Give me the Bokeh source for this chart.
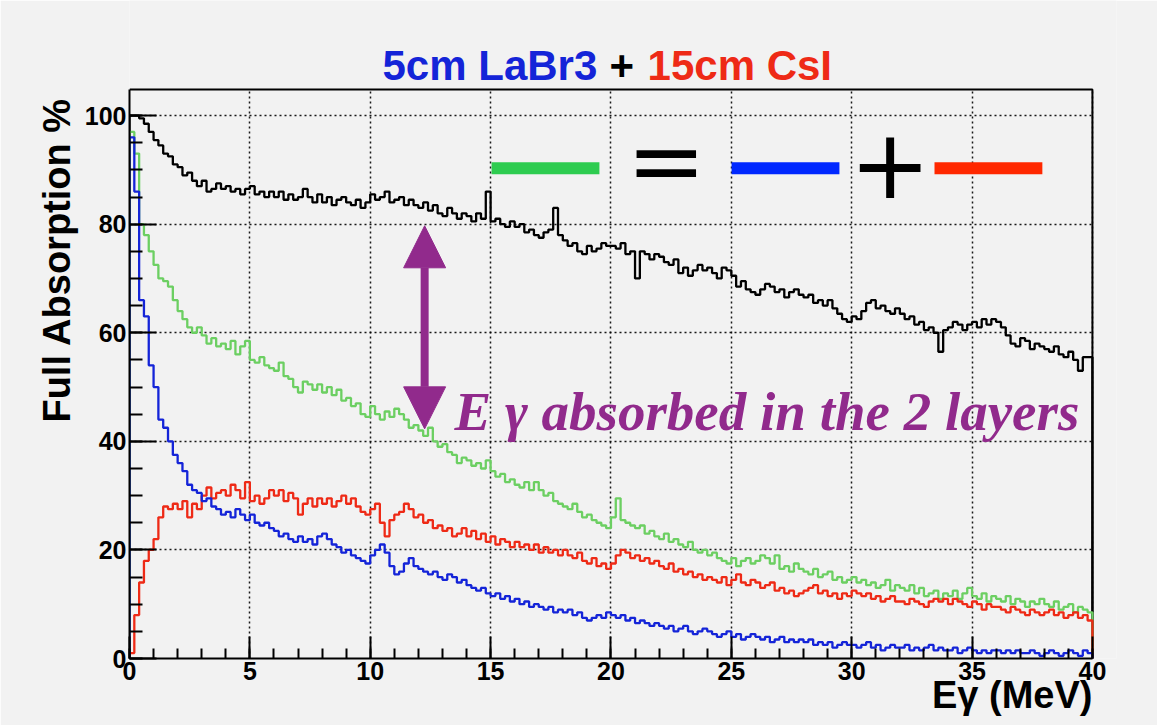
import numpy as np
from bokeh.plotting import figure
from bokeh.models import Range1d, FixedTicker, Label, Arrow, NormalHead, Title
from bokeh.embed import file_html
from bokeh.resources import INLINE

# ---------------- data ----------------
bin_width = 0.2          # MeV
e_max = 40.0
y_max = 104.8

# Full absorption, total (black)
black = [
    100, 100, 99.5, 98.5, 97, 95.5, 94.5, 93, 92.5, 91,
    90.5, 89, 89.5, 88, 87, 88, 86, 86.5, 87.5, 86.5,
    87, 86, 86.5, 85.5, 86.5, 87, 85.5, 86, 85, 86,
    85, 86, 84.5, 85.5, 84.5, 85, 86.5, 85, 84, 85.5,
    84, 85, 83.5, 84.5, 85, 84, 83.5, 84.5, 83, 84,
    85.5, 84.5, 85, 86, 84, 84.5, 85, 83.5, 84.5, 83.5,
    83, 84, 82.5, 83.5, 82, 81.5, 83, 82, 81, 82,
    81.5, 80.5, 82, 81, 86, 80.5, 81, 80, 79.5, 80.5,
    79.5, 80, 78.5, 79, 78, 77.5, 78.5, 79, 83, 78,
    77, 76, 76.5, 75, 74.5, 76, 75, 75.5, 76.5, 76,
    76, 75.5, 76.5, 74.5, 75, 70, 75, 74.5, 73.5, 74.5,
    74, 73, 72.5, 73.5, 71, 72, 70.5, 71.5, 72.5, 71.5,
    72, 71, 70, 72, 71.5, 70.5, 68.5, 69.5, 68, 67.5,
    67, 68, 69, 68.5, 67.5, 68, 66.5, 67.5, 68, 67,
    66.5, 67, 65.5, 66, 65, 66, 64.5, 63.5, 62.5, 62,
    63, 62.5, 64, 65.5, 66, 64.5, 65, 64, 63.5, 64.5,
    63.5, 62.5, 63, 61.5, 62, 60.5, 61, 60, 56.5, 60.5,
    61, 62, 61.5, 60.5, 61.5, 62, 61, 62.5, 61.5, 62.5,
    62, 61, 59.5, 58, 57.5, 59, 58.5, 57, 58, 57.5,
    57, 56.5, 57.5, 56, 55.5, 56.5, 55, 53, 55.5, 55.5,
]

# LaBr3 + CsI (green)
green = [
    97, 93, 80, 78, 75, 72.5, 70, 69.5, 68.5, 66,
    64, 62.5, 61, 60, 61, 59.5, 58, 59, 57.5, 58,
    57, 58.5, 56, 57.5, 58.5, 55, 54.5, 55.5, 54, 53.5,
    53, 54.5, 52, 51.5, 50, 49, 51, 50.5, 49.5, 50.5,
    49, 50, 48.5, 49.5, 47.5, 48, 46.5, 47, 45, 44.5,
    46.5, 45, 44, 45.5, 44.5, 46, 45, 44, 42.5, 43,
    42, 41, 42.5, 40, 39, 39.5, 38, 37.5, 36, 37,
    36.5, 35.5, 36, 35, 36.5, 34.5, 33.5, 34, 32.5, 33,
    32, 31.5, 32.5, 31, 32.5, 31, 30, 30.5, 29, 28.5,
    28, 27.5, 28.5, 27, 26, 26.5, 25.5, 25, 24.5, 24,
    26, 29.5, 25.5, 25, 24.5, 24, 24.5, 23, 23.5, 22.5,
    22, 23, 21.5, 22, 21, 20.5, 21.5, 20, 19.5, 20,
    19, 19.5, 18.5, 18, 17.5, 18.5, 17, 18, 18.5, 17.5,
    18, 19, 18.5, 17.5, 19, 16.5, 17, 16, 17.5, 16.5,
    16, 15.5, 16.5, 15, 15.5, 16, 14.5, 15, 14, 14.5,
    15, 14, 14.5, 13.5, 14, 13, 13.5, 14.5, 12.5, 13.5,
    13, 12.5, 13.5, 12, 13, 11.5, 12, 12.5, 11, 12,
    11.5, 12.5, 11, 12, 13, 11.5, 11, 12, 10.5, 11.5,
    11, 10.5, 11.5, 10, 11, 10.5, 9.5, 10.5, 10, 11,
    10, 9.5, 10.5, 9, 9.5, 10, 8.5, 9.5, 9, 8.5,
]

# 15cm CsI (red)
red = [
    1, 8, 14, 18, 20, 22, 26, 28, 27.5, 28.5,
    27.5, 29, 26, 28.5, 27.5, 30, 31.5, 29.5, 30.5, 31,
    30, 32, 31, 29.5, 32.5, 29, 30, 28.5, 29.5, 31,
    30, 31, 29, 30.5, 29.5, 26.5, 28.5, 29.5, 28, 29.5,
    28.5, 29.5, 28, 29, 30, 28.5, 29.5, 28, 27, 26.5,
    27.5, 28.5, 25, 22.5, 25.5, 26.5, 27, 28.5, 27.5, 26,
    26.5, 25, 25.5, 24, 24.5, 23.5, 24, 22.5, 23, 24,
    22.5, 23.5, 22, 23, 21.5, 22.5, 21, 22, 21.5, 20.5,
    21.5, 20.5, 21, 20, 21, 19.5, 20.5, 19.5, 20, 19,
    20, 19, 18.5, 19.5, 18, 17.5, 18.5, 17, 17.5, 16.5,
    17.5, 19, 20, 19.5, 18.5, 19, 18, 18.5, 17.5, 18,
    17, 16.5, 17.5, 16, 16.5, 15.5, 16, 15, 15.5, 14.5,
    15, 14.5, 14, 15, 13.5, 14.5, 15.5, 14, 13.5, 14.5,
    14, 13, 13.5, 14, 12.5, 13, 12, 12.5, 11.5, 12,
    12.5, 13, 13.5, 12, 12.5, 11.5, 12, 11, 12, 11.5,
    12.5, 12, 11.5, 12, 11, 11.5, 10.5, 11, 11.5, 10.5,
    10.5, 10, 11, 10.5, 10, 9.5, 10.5, 11, 10.5, 11,
    10, 11, 10.5, 10, 9.5, 10.5, 10, 9, 10, 9.5,
    9.5, 9, 8.5, 9.5, 9, 8.5, 8, 9, 8.5, 8,
    8.5, 9, 8, 8.5, 7.5, 8, 8.5, 7.5, 8, 7,
]

# 5cm LaBr3 (blue)
blue = [
    96, 86, 66, 63, 54, 50, 44, 42.5, 40, 37.5,
    36, 34.5, 32, 31, 30.5, 29, 29.5, 28, 27.5, 26.5,
    27, 26, 27.5, 26.5, 25.5, 26.5, 25, 24.5, 25, 24,
    23.5, 22.5, 23, 22, 21.5, 22.5, 21.5, 22, 21, 22.5,
    23, 22, 21, 20.5, 19.5, 20, 19, 18.5, 18, 17.5,
    19, 20, 21, 19.5, 17, 15.5, 16, 17.5, 18.5, 17,
    16.5, 16, 15.5, 16, 15, 14.5, 15.5, 15, 14, 14.5,
    13.5, 13, 12.5, 13, 12, 11.5, 12, 11, 11.5, 10.5,
    11, 10, 10.5, 9.5, 10, 9.5, 9, 9.5, 8.5, 9,
    8.5, 9, 8, 8.5, 7.5, 7, 7.5, 8, 7.5, 8.5,
    8, 7.5, 8, 7, 7.5, 6.5, 7, 6.5, 6, 6.5,
    6, 5.5, 6, 5, 5.5, 6, 5, 4.5, 5, 5.5,
    5, 4.5, 4, 4.5, 5, 4, 4.5, 3.5, 4, 4.5,
    4, 3.5, 4, 3, 3.5, 4, 3, 3.5, 3, 3.5,
    3, 3.5, 2.5, 3, 2.5, 3, 2, 2.5, 3, 2.5,
    2.5, 2, 2.5, 3, 2, 2.5, 1.5, 2, 2.5, 2,
    2, 2.5, 1.5, 2, 1.5, 2, 2.5, 1.5, 2, 1.5,
    1.5, 2, 1, 1.5, 2, 1.5, 1, 1.5, 1, 1.5,
    1.5, 1, 1.5, 1, 1.5, 1, 1, 1.5, 1, 0.5,
    1, 1.5, 1, 0.5, 1, 1.5, 1, 0.5, 1.5, 1,
]

x_major = [0, 5, 10, 15, 20, 25, 30, 35, 40]
x_minor = list(range(0, 41))
y_major = [0, 20, 40, 60, 80, 100]
y_minor = list(range(0, 101, 5))

title_parts = ["5cm LaBr3", "+", "15cm CsI"]
y_title = "Full Absorption %"
x_title = "E\u03b3 (MeV)"
note_text = "E \u03b3 absorbed in the 2 layers"

# ---------------- styles ----------------
C_BLACK = "#000000"
C_GREEN = "#6ccf62"
C_RED = "#ee2a16"
C_BLUE = "#1424d8"
C_PURPLE = "#912a8c"
BG = "#f2f2f2"
FONT = "Liberation Sans"


def outline(vals):
    edges = np.arange(len(vals) + 1) * bin_width
    xs, ys = [edges[0]], [0.0]
    for i, v in enumerate(vals):
        xs += [edges[i], edges[i + 1]]
        ys += [v, v]
    xs.append(edges[-1])
    ys.append(0.0)
    return xs, ys


# frame: x 129..1116 px (0..41), y 0..658 px (121.2..0); the histogram box is 0..40 x 0..104.8
p = figure(width=1157, height=725, output_backend="svg", toolbar_location=None,
           x_range=Range1d(0, 41), y_range=Range1d(0, 121.2),
           min_border_left=129, min_border_right=41,
           min_border_top=0, min_border_bottom=67)
p.background_fill_color = BG
p.border_fill_color = BG
p.outline_line_color = None

# axes
p.xaxis.ticker = FixedTicker(ticks=x_major, minor_ticks=x_minor)
p.yaxis.ticker = FixedTicker(ticks=y_major, minor_ticks=y_minor)
p.xaxis.bounds = (0, e_max)
p.yaxis.bounds = (0, y_max)
for ax, maj, mnr in ((p.xaxis, 22, 10), (p.yaxis, 27, 13)):
    ax.axis_line_width = 2
    ax.major_tick_line_width = 2
    ax.minor_tick_line_width = 2
    ax.major_tick_in = maj
    ax.major_tick_out = 0
    ax.minor_tick_in = mnr
    ax.minor_tick_out = 0
    ax.major_label_text_font = FONT
    ax.major_label_text_font_style = "bold"
    ax.major_label_text_font_size = "25px"
    ax.major_label_text_color = "black"
p.xaxis.major_label_standoff = 3
p.yaxis.major_label_standoff = 3

# grid
for g in (p.xgrid, p.ygrid):
    g.grid_line_color = "black"
    g.grid_line_dash = "2 3"
    g.grid_line_width = 1.5
    g.grid_line_alpha = 0.9
p.xgrid.cross_bounds = (0, y_max)
p.ygrid.cross_bounds = (0, e_max)

# top and right edges of the histogram box
p.line([0, e_max, e_max], [y_max, y_max, 0], line_color="black", line_width=2)

# histograms
for vals, col in ((black, C_BLACK), (green, C_GREEN), (red, C_RED), (blue, C_BLUE)):
    xs, ys = outline(vals)
    p.line(xs, ys, line_color=col, line_width=2.3)

# "green = blue + red" key
bar_y = 90.3
p.rect(x=[17.28, 27.25, 35.68], y=[bar_y] * 3, width=4.48, height=12, height_units="screen",
       fill_color=["#2ecc50", "#0028ff", "#ff2800"], line_color=None)
p.add_layout(Label(x=22.3, y=91.8, text="=", text_font="DejaVu Sans", text_font_style="italic",
                   text_font_size="95px", text_align="center", text_baseline="middle",
                   text_color="black"))
p.add_layout(Label(x=31.6, y=91.4, text="+", text_font="DejaVu Sans",
                   text_font_size="97px", text_align="center", text_baseline="middle",
                   text_color="black"))

# purple arrow and note
p.add_layout(Arrow(x_start=12.26, y_start=42.3, x_end=12.26, y_end=79.7,
                   line_color=C_PURPLE, line_width=8,
                   start=NormalHead(size=42, fill_color=C_PURPLE, line_color=C_PURPLE),
                   end=NormalHead(size=42, fill_color=C_PURPLE, line_color=C_PURPLE)))
p.add_layout(Label(x=13.5, y=45.5, text=note_text, text_font="Liberation Serif",
                   text_font_style="bold italic", text_font_size="55px",
                   text_color=C_PURPLE, text_align="left", text_baseline="alphabetic"))

# title (three coloured pieces)
for txt, xpos, col in ((title_parts[0], 10.51, C_BLUE), (title_parts[1], 19.94, "black"),
                       (title_parts[2], 21.52, C_RED)):
    p.add_layout(Label(x=xpos, y=109.3, text=txt, text_font=FONT, text_font_style="bold",
                       text_font_size="42px", text_color=col, text_align="left",
                       text_baseline="alphabetic"))

# axis titles
p.add_layout(Title(text=y_title, align="right", offset=97, standoff=8,
                   text_font=FONT, text_font_style="bold", text_font_size="38px",
                   text_color="black"), "left")
p.add_layout(Title(text=x_title, align="right", offset=24, standoff=-22,
                   text_font=FONT, text_font_style="bold", text_font_size="38px",
                   text_color="black"), "below")

open("out.html", "w").write(file_html(p, INLINE))
